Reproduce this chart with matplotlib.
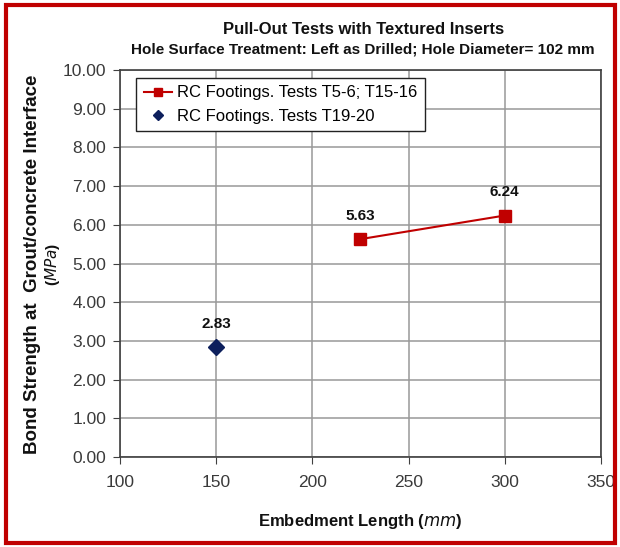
import matplotlib.pyplot as plt
from matplotlib.patches import Rectangle

plt.rcParams['font.family'] = ['Liberation Sans', 'DejaVu Sans']

# embedment length (mm) vs bond strength (MPa)
len_t5 = [225, 300]
bond_t5 = [5.63, 6.24]
len_t19 = [150]
bond_t19 = [2.83]
x_ticks = [100, 150, 200, 250, 300, 350]
y_ticks = [0, 1, 2, 3, 4, 5, 6, 7, 8, 9, 10]

W, H = 620, 547
fig = plt.figure(figsize=(W / 100, H / 100), dpi=100)
ax = fig.add_axes([120 / W, 1 - 457 / H, 481 / W, 387 / H])

ax.plot(len_t5, bond_t5, color='#C00000', marker='s', markersize=9, linewidth=1.5,
        label='RC Footings. Tests T5-6; T15-16', zorder=3)
ax.plot(len_t19, bond_t19, color='#0D1F5C', marker='D', markersize=8, linestyle='none',
        label='RC Footings. Tests T19-20', zorder=3)

for x, y in zip(len_t5 + len_t19, bond_t5 + bond_t19):
    ax.annotate(f'{y:.2f}', (x, y), xytext=(0, 17), textcoords='offset points',
                ha='center', va='center', fontsize=11, fontweight='bold', color='#111111')

ax.set_xlim(100, 350)
ax.set_ylim(0, 10)
ax.set_xticks(x_ticks)
ax.set_yticks(y_ticks)
ax.set_yticklabels([f'{v:.2f}' for v in y_ticks])
ax.tick_params(labelsize=12.5, direction='out', length=5, color='#404040', labelcolor='#3a3a3a')
ax.tick_params(axis='x', pad=8)
ax.tick_params(axis='y', pad=5)
ax.grid(True, color='#999999', linewidth=1.1)
for s in ax.spines.values():
    s.set_color('#404040')
    s.set_linewidth(1.2)

ax.set_xlabel('Embedment Length ($\\it{mm}$)', fontsize=12, fontweight='bold', labelpad=16,
              color='#111111')

# two-line y label, drawn as separate texts
fig.text(33 / W, 1 - 264 / H, 'Bond Strength at  Grout/concrete Interface', rotation=90,
         ha='center', va='center', fontsize=13.5, fontweight='bold', color='#111111')
fig.text(53 / W, 1 - 264 / H, '($\\it{MPa}$)', rotation=90, ha='center', va='center',
         fontsize=11, fontweight='bold', color='#111111')

leg = ax.legend(loc='upper left', bbox_to_anchor=(16 / 481, 1 - 8 / 387), borderaxespad=0,
                fontsize=12, frameon=True, fancybox=False, edgecolor='#222222', framealpha=1,
                handlelength=1.7, handletextpad=0.3, borderpad=0.45, labelspacing=0.5,
                markerscale=0.7)
leg.get_frame().set_linewidth(1.0)

fig.text(364 / W, 1 - 30 / H, 'Pull-Out Tests with Textured Inserts', ha='center', va='center',
         fontsize=12, fontweight='bold', color='#111111')
fig.text(363 / W, 1 - 50 / H, 'Hole Surface Treatment: Left as Drilled; Hole Diameter= 102 mm',
         ha='center', va='center', fontsize=11, fontweight='bold', color='#111111')

# red frame round the whole chart
fig.patches.append(Rectangle((6 / W, 4 / H), 609 / W, 538 / H, transform=fig.transFigure,
                             fill=False, edgecolor='#C00000', linewidth=3))

fig.savefig('out.png', dpi=100)
